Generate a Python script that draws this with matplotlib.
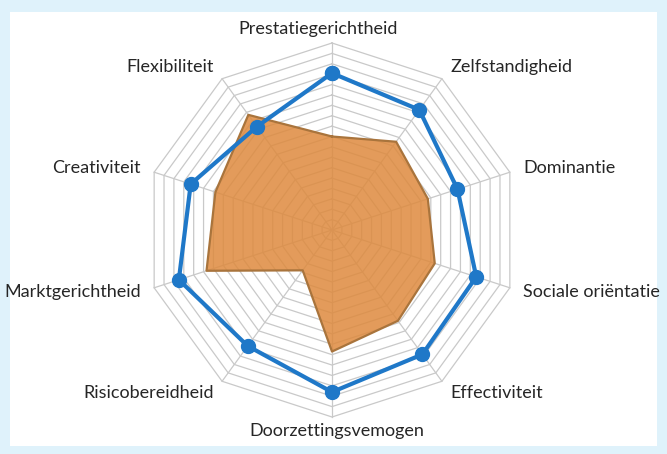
import numpy as np
import matplotlib.pyplot as plt
from matplotlib.patches import Rectangle

labels = ['Prestatiegerichtheid', 'Zelfstandigheid', 'Dominantie', 'Sociale oriëntatie',
          'Effectiviteit', 'Doorzettingsvemogen', 'Risicobereidheid', 'Marktgerichtheid',
          'Creativiteit', 'Flexibiliteit']
blue_vals = [15.1, 14.3, 12.7, 14.6, 14.8, 15.6, 13.8, 15.5, 14.3, 12.3]
orange_vals = [9.0, 10.5, 9.7, 10.4, 10.8, 11.7, 4.8, 12.7, 11.8, 13.7]
n_rings = 18

plt.rcParams['font.family'] = ['Lato', 'DejaVu Sans']

angles = np.deg2rad(90 - 36 * np.arange(len(labels)))
ca, sa = np.cos(angles), np.sin(angles)

def closed(v):
    v = np.asarray(v, dtype=float)
    x = v * ca
    y = v * sa
    return np.append(x, x[0]), np.append(y, y[0])

fig = plt.figure(figsize=(6.67, 4.54), dpi=100, facecolor='#dff2fb')
fig.patches.append(Rectangle((10 / 667, 8 / 454), 647 / 667, 434 / 454,
                             transform=fig.transFigure, facecolor='white',
                             edgecolor='none', zorder=-5))

ax = fig.add_axes([0, 0, 1, 1])
ax.set_zorder(2)
ax.patch.set_alpha(0)
k = 187 / n_rings  # pixels per unit
ax.set_xlim(-332 / k, 335 / k)
ax.set_ylim(-224 / k, 230 / k)
ax.axis('off')

# decagon grid + spokes
for r in range(1, n_rings + 1):
    gx, gy = closed([r] * len(labels))
    ax.plot(gx, gy, color='#c9c9c9', lw=0.9, zorder=1)
for c, s in zip(ca, sa):
    ax.plot([0, n_rings * c], [0, n_rings * s], color='#c9c9c9', lw=0.9, zorder=1)

# orange area
ox, oy = closed(orange_vals)
ax.fill(ox, oy, color='#de8a3e', alpha=0.85, lw=0, zorder=2)
ax.plot(ox, oy, color='#a9743c', lw=1.6, zorder=3)

# blue line
bx, by = closed(blue_vals)
ax.plot(bx, by, color='#1f78c8', lw=3, marker='o', ms=10, zorder=4)

# labels
nudge = {'Prestatiegerichtheid': -14, 'Doorzettingsvemogen': 5}
off = 14 / k
for lab, c, s in zip(labels, ca, sa):
    x = (n_rings + off) * c + nudge.get(lab, 0) / k
    y = (n_rings + off) * s
    if c > 0.1:
        ha = 'left'
    elif c < -0.1:
        ha = 'right'
    else:
        ha = 'center'
    ax.text(x, y, lab, ha=ha, va='center', fontsize=13, color='#262626')

fig.savefig('out.png', dpi=100, facecolor=fig.get_facecolor())
